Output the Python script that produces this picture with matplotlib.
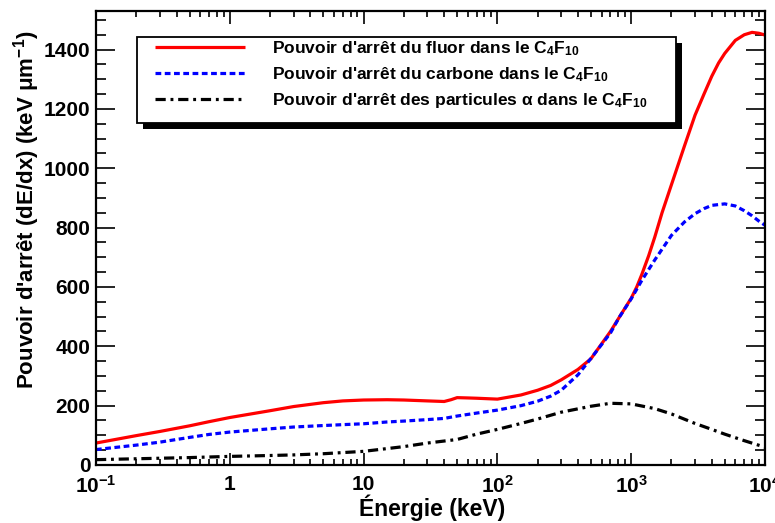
import matplotlib
matplotlib.use("Agg")
import matplotlib.pyplot as plt
from matplotlib.ticker import FixedLocator, FixedFormatter, MultipleLocator, NullFormatter, LogLocator
from matplotlib.patches import Rectangle

plt.rcParams['font.family'] = ['Liberation Sans', 'DejaVu Sans']
plt.rcParams['font.weight'] = 'bold'
plt.rcParams['mathtext.fontset'] = 'custom'
plt.rcParams['mathtext.rm'] = 'Liberation Sans:bold'
plt.rcParams['mathtext.it'] = 'Liberation Sans:bold'
plt.rcParams['mathtext.bf'] = 'Liberation Sans:bold'
plt.rcParams['mathtext.default'] = 'rm'

# ---- data (keV, keV/um) ----
energy_fluor = [0.1, 0.2, 0.3, 0.5, 0.7, 1, 2, 3, 5, 7, 10, 15, 20, 30, 40, 45, 50, 60, 70,
                100, 150, 200, 250, 300, 400, 500, 700, 820, 1000, 1100, 1200, 1350, 1500,
                1700, 2000, 2500, 3000, 3500, 4000, 4500, 5000, 6000, 7000, 8000, 9000, 10000]
dedx_fluor = [74, 99, 113, 132, 146, 160, 183, 197, 210, 216, 219, 220, 219, 216, 214, 220,
              227, 226, 225, 222, 236, 252, 268, 287, 322, 358, 450, 500, 562, 600, 642, 705,
              768, 850, 945, 1075, 1179, 1250, 1310, 1355, 1387, 1431, 1450, 1458, 1455, 1449]

energy_carbone = [0.1, 0.2, 0.3, 0.5, 0.7, 1, 2, 3, 5, 7, 10, 15, 20, 30, 40, 50, 70, 100,
                  150, 200, 250, 300, 400, 500, 700, 820, 1000, 1200, 1500, 2000, 2500, 3000,
                  3500, 4000, 5000, 6000, 7000, 8000, 9000, 10000]
dedx_carbone = [52, 67, 77, 93, 103, 111, 122, 128, 133, 136, 139, 145, 148, 153, 157, 165,
                175, 185, 200, 215, 232, 252, 304, 359, 445, 500, 560, 622, 691, 774, 819,
                847, 864, 875, 880, 873, 857, 840, 822, 808]

energy_alpha = [0.1, 0.2, 0.5, 1, 2, 3, 5, 10, 20, 30, 50, 70, 100, 150, 200, 300, 500,
                700, 1000, 1500, 2000, 3000, 4000, 5000, 7000, 10000]
dedx_alpha = [18, 21, 25, 29, 32, 34, 38, 46, 62, 74, 86, 104, 120, 140, 155, 178, 198,
              208, 206, 190, 172, 140, 120, 104, 82, 60]

labels = [r"Pouvoir d'arrêt du fluor dans le C$_{4}$F$_{10}$",
          r"Pouvoir d'arrêt du carbone dans le C$_{4}$F$_{10}$",
          r"Pouvoir d'arrêt des particules α dans le C$_{4}$F$_{10}$"]

xtick_vals = [0.1, 1, 10, 100, 1000, 10000]
xtick_labels = [r"10$^{-1}$", "1", "10", r"10$^{2}$", r"10$^{3}$", r"10$^{4}$"]
ytick_vals = [0, 200, 400, 600, 800, 1000, 1200, 1400]

# ---- figure ----
W, H = 775, 523
fig = plt.figure(figsize=(W / 100, H / 100), dpi=100)
L, R, T, B = 96, 765, 11, 465
ax = fig.add_axes([L / W, 1 - B / H, (R - L) / W, (B - T) / H])

def ax_x(px):
    return (px - L) / (R - L)

def ax_y(py):
    return (B - py) / (B - T)

lw = 2.3
ax.plot(energy_fluor, dedx_fluor, color='#ff0000', lw=lw, solid_capstyle='butt', label=labels[0])
ax.plot(energy_carbone, dedx_carbone, color='#0000ff', lw=lw, linestyle=(0, (1.8, 1.1)), label=labels[1])
ax.plot(energy_alpha, dedx_alpha, color='black', lw=lw, linestyle=(0, (3.2, 1.5, 0.9, 1.5)), label=labels[2])

ax.set_xscale('log')
ax.set_xlim(0.1, 10000)
ax.set_ylim(0, 1530)

ax.xaxis.set_major_locator(FixedLocator(xtick_vals))
ax.xaxis.set_major_formatter(FixedFormatter(xtick_labels))
ax.xaxis.set_minor_locator(LogLocator(base=10, subs=range(2, 10)))
ax.xaxis.set_minor_formatter(NullFormatter())
ax.yaxis.set_major_locator(FixedLocator(ytick_vals))
ax.yaxis.set_minor_locator(MultipleLocator(50))

for sp in ax.spines.values():
    sp.set_linewidth(1.6)

ax.tick_params(axis='both', which='both', direction='in', top=True, right=True, width=1.2,
               labelsize=15)
ax.tick_params(axis='x', which='major', length=9, pad=7)
ax.tick_params(axis='x', which='minor', length=4.5)
ax.tick_params(axis='y', which='major', length=14, pad=4)
ax.tick_params(axis='y', which='minor', length=7)
for lab in ax.get_xticklabels() + ax.get_yticklabels():
    lab.set_fontweight('bold')

ax.set_xlabel("Énergie (keV)", fontsize=16.5, fontweight='bold')
ax.xaxis.set_label_coords(ax_x(505), ax_y(508), transform=ax.transAxes)
ax.xaxis.label.set_horizontalalignment('right')
ax.xaxis.label.set_verticalalignment('center')
ax.set_ylabel(r"Pouvoir d'arrêt (dE/dx) (keV μm$^{-1}$)", fontsize=16, fontweight='bold')
ax.yaxis.set_label_coords(ax_x(27), ax_y(30), transform=ax.transAxes)
ax.yaxis.label.set_horizontalalignment('right')
ax.yaxis.label.set_verticalalignment('center')

# legend box with black shadow
bx0, by0 = ax_x(137), ax_y(123)
bw, bh = ax_x(676) - bx0, ax_y(37) - by0
sx, sy = 6 / (R - L), 6 / (B - T)
shadow = Rectangle((bx0 + sx, by0 - sy), bw, bh, transform=ax.transAxes,
                   facecolor='black', edgecolor='black', lw=0, zorder=5.0, clip_on=False)
frame = Rectangle((bx0, by0), bw, bh, transform=ax.transAxes,
                  facecolor='white', edgecolor='black', lw=1.3, zorder=5.1, clip_on=False)
ax.add_patch(shadow)
ax.add_patch(frame)

leg = ax.legend(loc='upper left', bbox_to_anchor=(ax_x(155), ax_y(39)), frameon=False,
                borderaxespad=0, borderpad=0, handlelength=5.2, handletextpad=1.55,
                labelspacing=0.42, prop={'weight': 'bold', 'size': 12.5})
leg.set_zorder(6)

fig.savefig("out.png", dpi=100)
